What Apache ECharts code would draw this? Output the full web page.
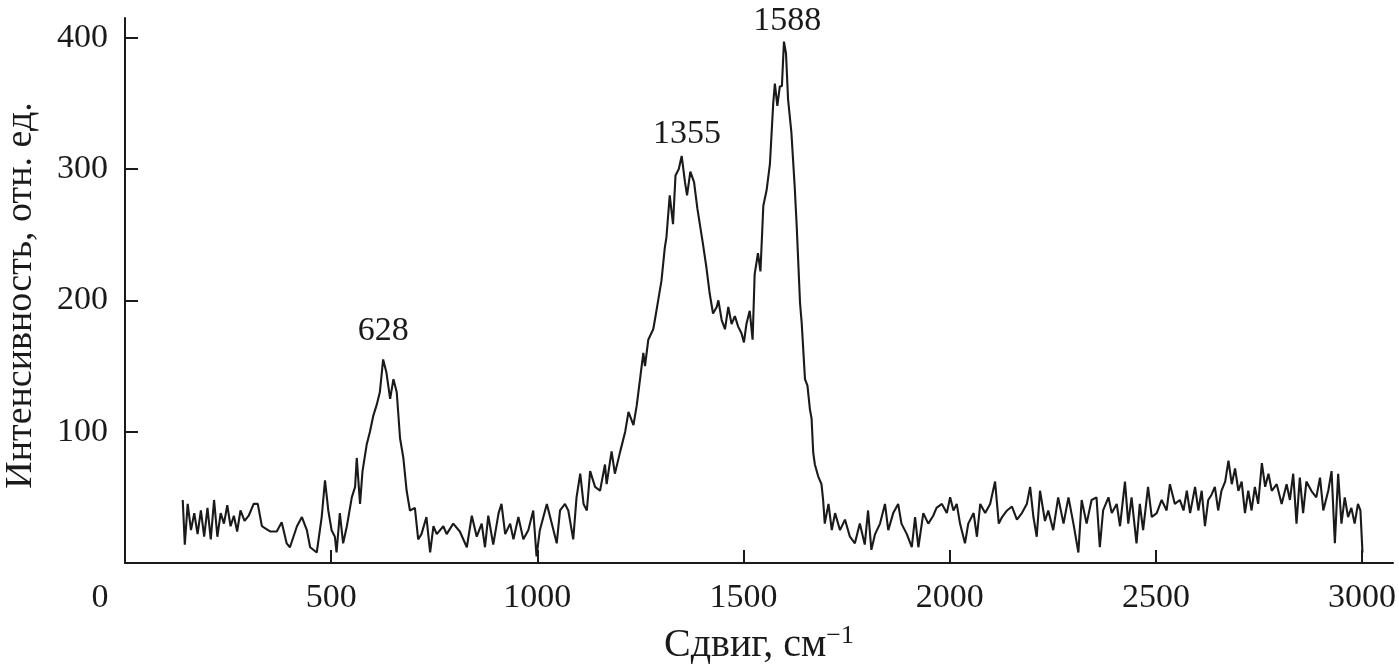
<!DOCTYPE html>
<html>
<head>
<meta charset="utf-8">
<script src="https://cdn.jsdelivr.net/npm/echarts@6/dist/echarts.min.js"></script>
<style>
html,body{margin:0;padding:0;background:#fff;}
#chart{width:1399px;height:670px;}
</style>
</head>
<body>
<div id="chart"></div>
<script>
// Raman shift (cm^-1)
const shift = [
140,145,152,160,168,176,184,192,200,208,216,224,232,240,248,256,264,272,280,290,300,312,322,332,342,352,368,380,392,400,417,429,441,449,465,477,485,493,501,509,513,521,529,538,550,558,562,570,576,586,594,602,610,618,626,634,643,651,659,667,675,683,691,703,711,719,731,740,748,756,772,
780,796,812,829,841,853,865,873,881,893,906,913,922,934,942,954,966,978,990,998,1006,1023,1035,1047,1055,1067,1075,1087,1095,1104,1112,1120,1128,1140,1152,1164,1168,1180,1188,1201,1213,1221,1233,1241,1249,
1257,1261,1269,1281,1285,1293,1301,1309,1313,1321,1329,1335,1343,1350,1358,1363,1371,1380,1388,1394,1402,1410,1418,1426,1435,1439,1447,1455,1463,1471,1479,1487,1495,1501,1507,1515,1522,
1527,1535,1541,1548,1556,1564,1572,1576,1582,1588,1593,1598,1603,1608,1616,1624,1629,1637,1641,1649,1655,1661,1665,1669,1673,1681,1689,1693,1697,1706,1714,1722,
1734,1746,1758,1770,1782,1794,1802,1810,1819,1831,1843,1851,1863,1875,1883,1896,1908,1916,1924,1936,1948,1960,1968,1981,1993,2001,2009,2017,2025,2037,2045,2058,2066,2074,2086,2098,2110,2119,2127,2139,2151,2163,2175,2187,2195,2203,2211,2219,2231,2239,2251,2263,2276,2288,2300,2312,2320,2332,2344,
2356,2364,2372,2385,2393,2405,2413,2425,2433,2441,2453,2461,2469,2481,2490,2502,2514,2526,2534,2546,2558,2567,2575,2583,2595,2603,2611,2619,2627,2635,2643,2651,2659,2668,2676,2684,2692,2700,2708,2716,2724,2732,2740,2748,2757,2765,2773,2781,2793,2805,2817,2825,2833,2841,2849,2857,2865,2877,2889,2898,2906,2918,2926,2934,2942,2950,2958,2966,2974,2982,2990,2996,3001
];
// Intensity (rel. units)
const intensity = [
48,14,45,25,38,22,40,20,42,18,48,20,38,30,44,28,36,24,40,32,36,45,45,28,26,24,24,31,15,12,28,35,25,12,8,35,63,40,25,20,8,38,15,28,50,58,80,45,70,90,100,112,120,130,155,145,125,140,130,95,80,55,40,42,18,22,35,8,28,22,28,
22,30,24,12,36,20,30,12,36,14,38,45,22,30,18,35,18,25,40,5,25,45,30,15,40,45,40,18,50,68,45,40,70,58,55,75,60,85,68,85,100,115,105,120,140,
160,150,170,178,185,200,215,240,248,280,258,295,300,310,290,280,298,290,270,258,242,225,205,190,195,200,185,178,195,182,188,180,175,168,182,192,170,
220,236,222,272,284,304,350,365,348,363,363,397,388,353,328,287,256,198,183,140,135,117,110,84,75,66,60,48,30,45,25,38,
25,33,20,15,30,14,40,10,22,30,45,25,38,45,30,22,12,35,12,38,30,36,42,45,38,50,40,45,30,15,30,38,20,45,38,45,62,30,35,40,43,33,38,45,58,35,20,55,32,40,25,50,30,50,30,8,48,30,48,
50,12,40,50,38,45,28,62,30,50,15,45,25,58,35,38,48,40,60,45,48,40,55,38,58,40,55,28,48,52,58,40,55,62,78,60,72,55,62,38,55,40,58,45,76,58,68,55,60,45,60,48,68,30,65,38,62,55,50,65,40,55,70,15,68,30,50,35,42,30,45,40,8
];
// Peak annotations
const peakNames = ['628', '1355', '1588'];
const peakShift = [626, 1363, 1606];
const peakTop = [156, 306, 392];
// Axis ticks
const xTicks = [0, 500, 1000, 1500, 2000, 2500, 3000];
const yTicks = [100, 200, 300, 400];

const FONT = 'Liberation Serif';
const INK = '#1a1a1a';

const lineData = shift.map((s, i) => [s, intensity[i]]);
const peakData = peakShift.map((s, i) => ({ value: [s, peakTop[i]], name: peakNames[i] }));

const chart = echarts.init(document.getElementById('chart'), null, { renderer: 'canvas' });
chart.setOption({
  backgroundColor: '#fff',
  animation: false,
  grid: { left: 125, right: 6, top: 18, bottom: 107, containLabel: false, outerBoundsMode: 'none' },
  xAxis: {
    type: 'value',
    min: 0,
    max: 3075,
    interval: 500,
    name: 'Сдвиг, см{sup|−1}',
    nameLocation: 'middle',
    nameGap: 60,
    nameTextStyle: {
      fontFamily: FONT, fontSize: 40, color: INK,
      rich: { sup: { fontFamily: FONT, fontSize: 26, color: INK, verticalAlign: 'top', padding: [0, 0, 18, 0] } }
    },
    axisLine: { show: true, lineStyle: { color: INK, width: 2 } },
    axisTick: { show: true, inside: true, length: 13, customValues: xTicks, lineStyle: { color: INK, width: 2 } },
    axisLabel: {
      customValues: xTicks,
      margin: 18,
      fontFamily: FONT, fontSize: 34, color: INK,
      formatter: v => v === 0 ? '{z|0}' : String(v),
      rich: { z: { fontFamily: FONT, fontSize: 34, color: INK, padding: [0, 50, 0, 0] } }
    },
    splitLine: { show: false }
  },
  yAxis: {
    type: 'value',
    min: 0,
    max: 415,
    interval: 100,
    name: 'Интенсивность, отн. ед.',
    nameLocation: 'middle',
    nameGap: 85,
    nameRotate: 90,
    nameTextStyle: { fontFamily: FONT, fontSize: 38, color: INK, padding: [0, 10, 0, 0] },
    axisLine: { show: true, lineStyle: { color: INK, width: 2 } },
    axisTick: { show: true, inside: true, length: 13, customValues: yTicks, lineStyle: { color: INK, width: 2 } },
    axisLabel: { customValues: yTicks, margin: 17, fontFamily: FONT, fontSize: 34, color: INK },
    splitLine: { show: false }
  },
  series: [
    {
      type: 'line',
      data: lineData,
      showSymbol: false,
      symbol: 'none',
      lineStyle: { color: INK, width: 2.1 },
      z: 3
    },
    {
      type: 'scatter',
      data: peakData,
      symbolSize: 0,
      itemStyle: { opacity: 1 },
      label: {
        show: true,
        position: 'top',
        distance: 10,
        formatter: p => p.name,
        fontFamily: FONT, fontSize: 34, color: INK, opacity: 1
      },
      z: 4
    }
  ]
});
</script>
</body>
</html>
